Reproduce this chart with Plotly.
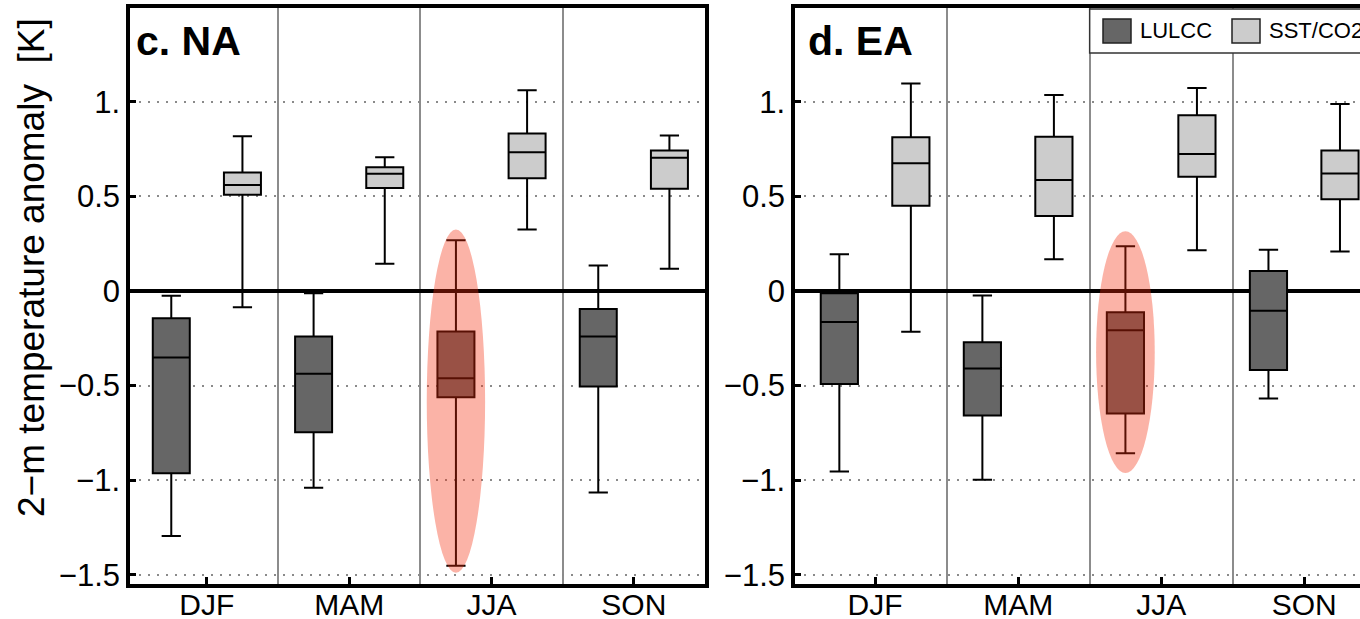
import plotly.graph_objects as go

# ---------------- data ----------------
seasons = ["DJF", "MAM", "JJA", "SON"]
panel_titles = ["c. NA", "d. EA"]
series_names = ["LULCC", "SST/CO2"]

# Panel c (NA)
na_lulcc_low = [-1.295, -1.040, -1.451, -1.065]
na_lulcc_q1 = [-0.963, -0.746, -0.561, -0.505]
na_lulcc_med = [-0.351, -0.437, -0.461, -0.240]
na_lulcc_q3 = [-0.144, -0.240, -0.214, -0.095]
na_lulcc_high = [-0.025, -0.012, 0.268, 0.135]

na_sst_low = [-0.086, 0.144, 0.325, 0.118]
na_sst_q1 = [0.509, 0.544, 0.596, 0.540]
na_sst_med = [0.560, 0.619, 0.733, 0.704]
na_sst_q3 = [0.626, 0.654, 0.832, 0.742]
na_sst_high = [0.818, 0.707, 1.061, 0.821]

# Panel d (EA)
ea_lulcc_low = [-0.954, -0.997, -0.857, -0.568]
ea_lulcc_q1 = [-0.491, -0.658, -0.647, -0.418]
ea_lulcc_med = [-0.164, -0.409, -0.207, -0.104]
ea_lulcc_q3 = [-0.012, -0.271, -0.112, 0.105]
ea_lulcc_high = [0.194, -0.024, 0.236, 0.218]

ea_sst_low = [-0.216, 0.168, 0.215, 0.209]
ea_sst_q1 = [0.450, 0.396, 0.604, 0.485]
ea_sst_med = [0.675, 0.586, 0.724, 0.621]
ea_sst_q3 = [0.812, 0.815, 0.928, 0.742]
ea_sst_high = [1.096, 1.035, 1.072, 0.988]

# highlighted season (JJA, LULCC) vertical extent of ellipse
highlight_season = "JJA"
na_highlight = [-1.489, 0.325]
ea_highlight = [-0.962, 0.316]

ytick_vals = [-1.5, -1.0, -0.5, 0, 0.5, 1.0]
ytick_text = ["\u22121.5", "\u22121.", "\u22120.5", "0", "0.5", "1."]

# ---------------- style ----------------
W, H = 1360, 619
FONT = "Liberation Sans, Arial, Helvetica, sans-serif"
DARK = "#666666"
LIGHT = "#cccccc"
OFF = 0.25
BOXW = 0.26

fig = go.Figure()

panels = [
    dict(lulcc=(na_lulcc_low, na_lulcc_q1, na_lulcc_med, na_lulcc_q3, na_lulcc_high),
         sst=(na_sst_low, na_sst_q1, na_sst_med, na_sst_q3, na_sst_high),
         hl=na_highlight, xa="x", ya="y"),
    dict(lulcc=(ea_lulcc_low, ea_lulcc_q1, ea_lulcc_med, ea_lulcc_q3, ea_lulcc_high),
         sst=(ea_sst_low, ea_sst_q1, ea_sst_med, ea_sst_q3, ea_sst_high),
         hl=ea_highlight, xa="x2", ya="y2"),
]

xpos = list(range(len(seasons)))
for p in panels:
    for key, off, col in (("lulcc", -OFF, DARK), ("sst", OFF, LIGHT)):
        lo, q1, med, q3, hi = p[key]
        fig.add_trace(go.Box(
            x=[i + off for i in xpos],
            lowerfence=lo, q1=q1, median=med, q3=q3, upperfence=hi,
            width=BOXW, whiskerwidth=0.52,
            fillcolor=col, line=dict(color="black", width=2),
            boxpoints=False, showlegend=False, hoverinfo="skip",
            xaxis=p["xa"], yaxis=p["ya"],
        ))
    hi_idx = seasons.index(highlight_season)
    fig.add_shape(type="circle", xref=p["xa"], yref=p["ya"],
                  x0=hi_idx - OFF - 0.205, x1=hi_idx - OFF + 0.205,
                  y0=p["hl"][0], y1=p["hl"][1],
                  fillcolor="rgba(244,44,10,0.36)", line=dict(width=0),
                  layer="above")

axis_common_y = dict(
    range=[-1.548, 1.495], domain=[1 - 584 / H, 1 - 8 / H],
    tickvals=ytick_vals, ticktext=ytick_text,
    ticks="inside", ticklen=6, tickwidth=3, tickcolor="black",
    showgrid=True, gridcolor="#8a8a8a", gridwidth=2, griddash="2px,7px",
    zeroline=True, zerolinecolor="black", zerolinewidth=3.5,
    showline=True, linecolor="black", linewidth=3.5,
    tickfont=dict(family=FONT, size=31, color="black"),
    automargin=False,
    fixedrange=True,
)
axis_common_x = dict(
    tickvals=xpos, ticktext=seasons,
    ticks="inside", ticklen=7, tickwidth=3, tickcolor="black",
    showgrid=False, zeroline=False,
    showline=True, linecolor="black", linewidth=3.5,
    tickfont=dict(family=FONT, size=30, color="black"),
    minor=dict(tickvals=[0.5, 1.5, 2.5], showgrid=True, gridcolor="#8c8c8c",
               gridwidth=1.5, ticks=""),
    automargin=False,
    fixedrange=True,
)

fig.update_layout(
    width=W, height=H, autosize=False,
    margin=dict(l=0, r=0, t=0, b=0, autoexpand=False),
    paper_bgcolor="white", plot_bgcolor="white",
    boxmode="overlay",
    xaxis=dict(axis_common_x, domain=[130 / W, 705 / W], range=[-0.54, 3.5],
               mirror=True, anchor="y"),
    yaxis=dict(axis_common_y, mirror=True, anchor="x"),
    xaxis2=dict(axis_common_x, domain=[795 / W, 1.0], range=[-0.56, 3.39],
                mirror=True, anchor="y2"),
    yaxis2=dict(axis_common_y, mirror=False, anchor="x2"),
)

# pull x tick labels a little closer to the frame
try:
    fig.update_xaxes(ticklabelstandoff=-9)
except Exception:
    fig.update_xaxes(ticklabelstandoff=0)

# panel labels
for title, xpx in zip(panel_titles, (134, 806)):
    fig.add_annotation(text="<b>" + title + "</b>", xref="paper", yref="paper",
                       x=xpx / W, y=1 - 41 / H, xanchor="left", yanchor="middle",
                       showarrow=False, font=dict(family=FONT, size=41, color="black"))

# y axis title
fig.add_annotation(text="2\u2212m temperature anomaly \u00a0[K]", xref="paper", yref="paper",
                   x=31 / W, y=1 - 268 / H, textangle=-90, xanchor="center", yanchor="middle",
                   showarrow=False, font=dict(family=FONT, size=37, color="black"))

# legend (manual)
fig.add_shape(type="rect", xref="x2", yref="paper", x0=1.5, x1=3.6,
              y0=1 - 53 / H, y1=1 - 9 / H, fillcolor="white",
              line=dict(color="#333333", width=1.5), layer="above")
legend_items = [(series_names[0], DARK, 1103), (series_names[1], LIGHT, 1232)]
for name, col, xpx in legend_items:
    fig.add_shape(type="rect", xref="paper", yref="paper",
                  x0=xpx / W, x1=(xpx + 28) / W, y0=1 - 43 / H, y1=1 - 19 / H,
                  fillcolor=col, line=dict(color="#222222", width=1.5), layer="above")
    fig.add_annotation(text=name, xref="paper", yref="paper",
                       x=(xpx + 35) / W, y=1 - 31 / H, xanchor="left", yanchor="middle",
                       showarrow=False, font=dict(family=FONT, size=22, color="black"))

fig.write_html("out.html")
